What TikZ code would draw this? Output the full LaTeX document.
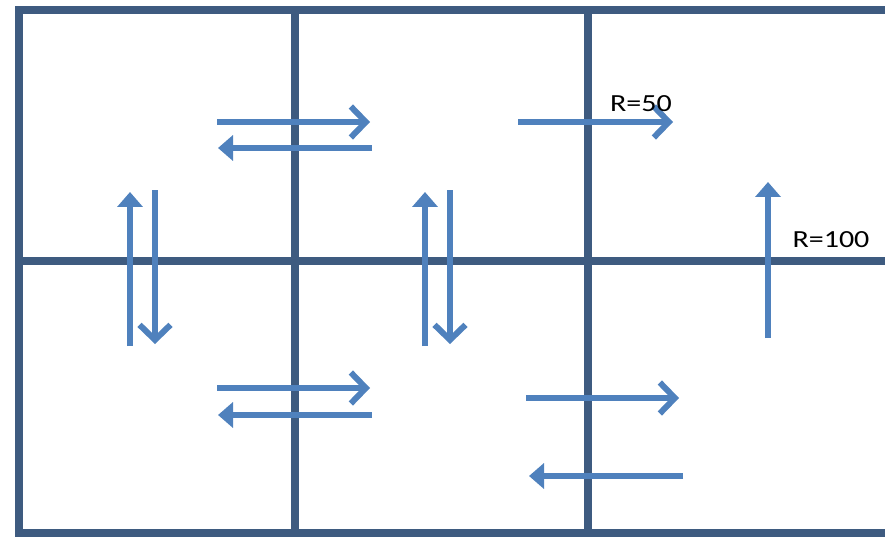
\documentclass[tikz,border=0pt]{standalone}
\usepackage{fontspec}
\setmainfont{Carlito}
\usepackage{xcolor}
\usetikzlibrary{arrows.meta}
\definecolor{gridblue}{HTML}{3E5B80}
\definecolor{arrblue}{HTML}{4F81BD}
\tikzset{
    gridline/.style={line width=0.15cm, draw=gridblue},
    fwd/.style={line width=0.12cm, draw=arrblue, -{Straight Barb[length=0.3cm, width=0.62cm]}},
    back/.style={line width=0.12cm, draw=arrblue, -{Triangle[length=0.3cm, width=0.5cm]}},
    rlabel/.style={font=\fontsize{14}{16}\selectfont, xscale=1.22, inner sep=0pt}
}

\begin{document}
\begin{tikzpicture}[x=0.02cm, y=-0.02cm]
    \useasboundingbox (0,0) rectangle (885,537);
    \clip (0,0) rectangle (885,537);
    % grid
    \draw[gridline] (900,10) -- (19,10) -- (19,533) -- (900,533);
    \draw[gridline] (295,10) -- (295,533);
    \draw[gridline] (588,10) -- (588,533);
    \draw[gridline] (19,261) -- (900,261);

    % end points of the arrows
    \coordinate (r1a) at (217,122);  \coordinate (r1b) at (370,122);
    \coordinate (l1a) at (372,148);  \coordinate (l1b) at (218,148);
    \coordinate (r2a) at (518,122);  \coordinate (r2b) at (673,122);
    \coordinate (u3a) at (768,338);  \coordinate (u3b) at (768,182);
    \coordinate (u4a) at (130,346);  \coordinate (u4b) at (130,192);
    \coordinate (d4a) at (155,190);  \coordinate (d4b) at (155,344);
    \coordinate (u5a) at (425,346);  \coordinate (u5b) at (425,192);
    \coordinate (d5a) at (450,190);  \coordinate (d5b) at (450,344);
    \coordinate (r6a) at (217,388);  \coordinate (r6b) at (370,388);
    \coordinate (l6a) at (372,415);  \coordinate (l6b) at (218,415);
    \coordinate (r7a) at (526,398);  \coordinate (r7b) at (679,398);
    \coordinate (l7a) at (683,476);  \coordinate (l7b) at (529,476);

    \draw[fwd] (r1a) -- (r1b);
    \draw[back] (l1a) -- (l1b);
    \draw[fwd] (r2a) -- (r2b);
    \draw[back] (u3a) -- (u3b);
    \draw[back] (u4a) -- (u4b);
    \draw[fwd] (d4a) -- (d4b);
    \draw[back] (u5a) -- (u5b);
    \draw[fwd] (d5a) -- (d5b);
    \draw[fwd] (r6a) -- (r6b);
    \draw[back] (l6a) -- (l6b);
    \draw[fwd] (r7a) -- (r7b);
    \draw[back] (l7a) -- (l7b);

    \node[rlabel] (r50) at (641,104) {R=50};
    \node[rlabel] (r100) at (831,240) {R=100};
\end{tikzpicture}
\end{document}
